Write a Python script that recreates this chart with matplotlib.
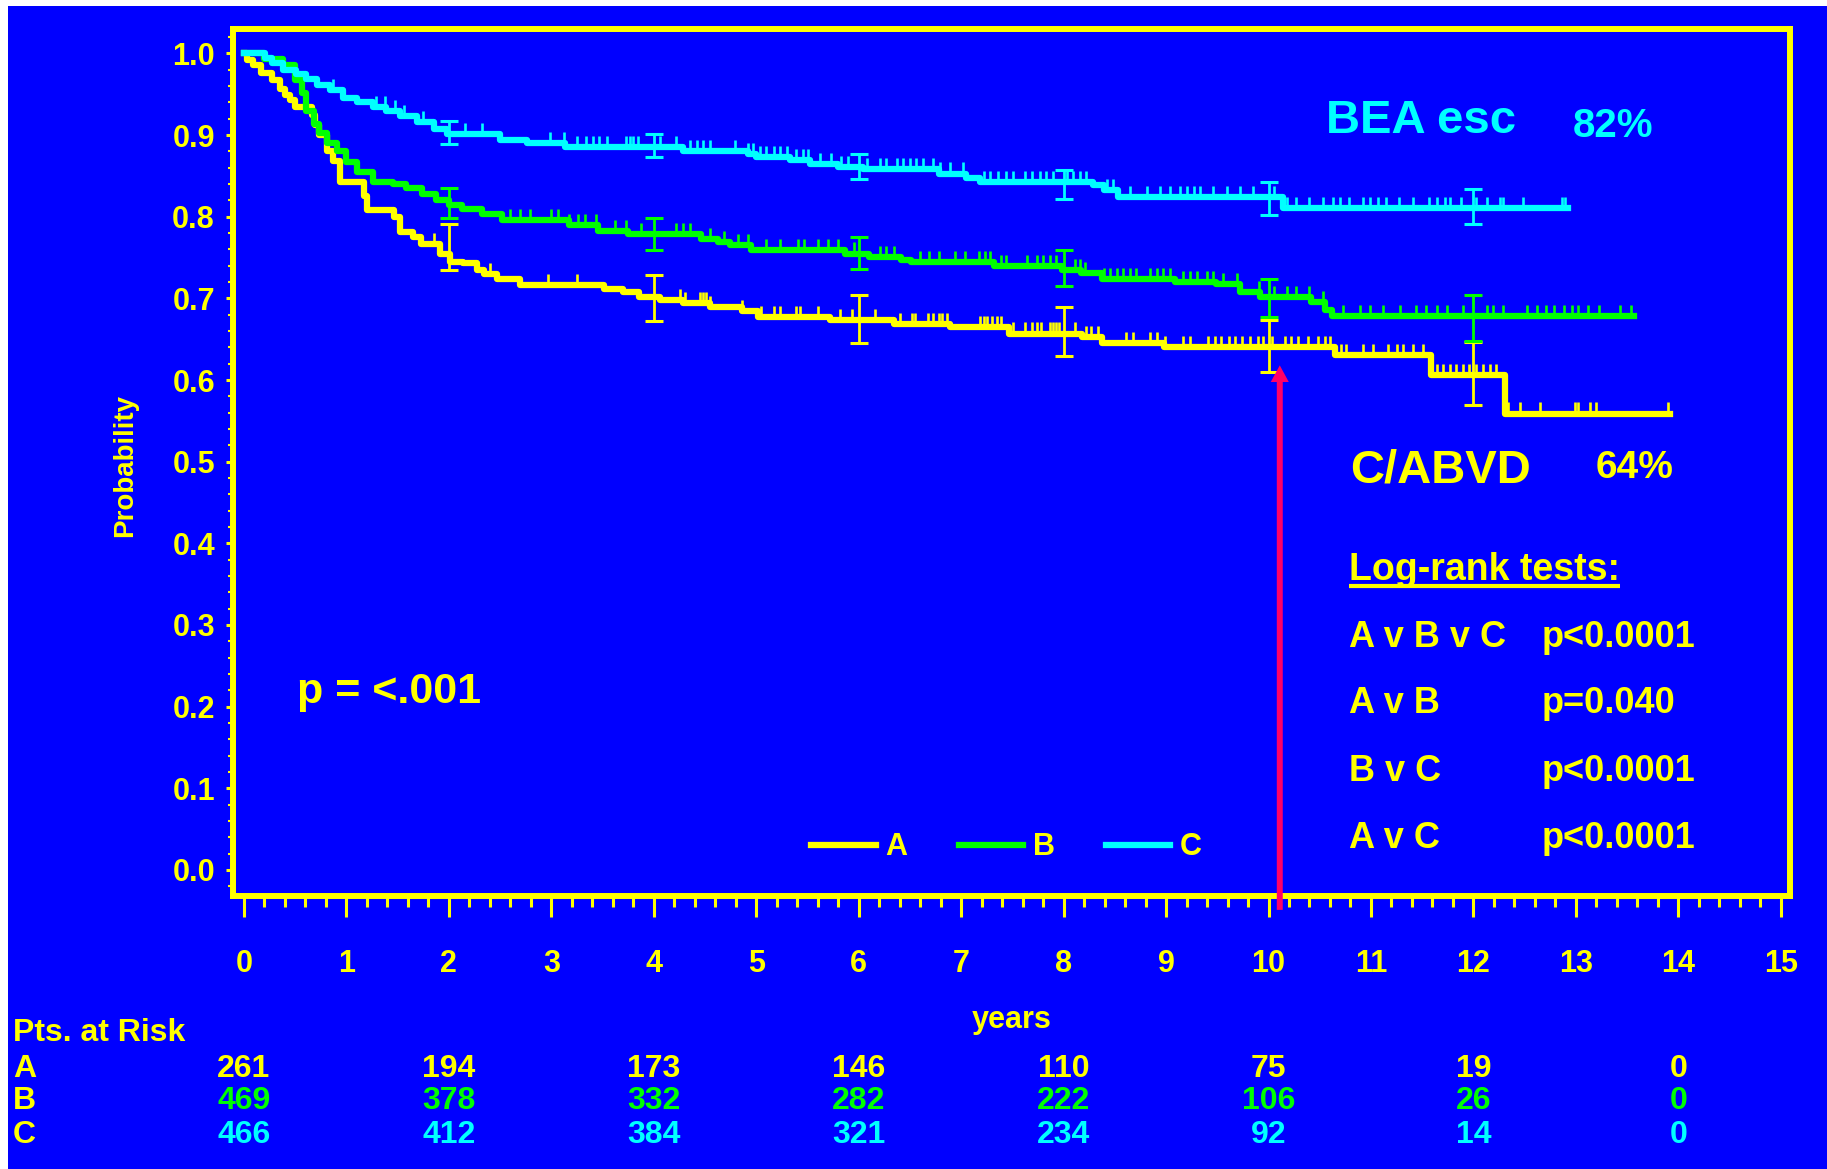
import numpy as np
import matplotlib
matplotlib.use("Agg")
import matplotlib.pyplot as plt
from matplotlib.patches import Rectangle, FancyArrowPatch
from matplotlib.ticker import MultipleLocator, FormatStrFormatter
from matplotlib import transforms

# ---------------- colours ----------------
BLUE = "#0000FF"
YEL = "#FFFF00"
GRN = "#00FF00"
CYN = "#00FFFF"
RED = "#FF0066"

# ---------------- Kaplan-Meier steps (years, probability) ----------------
a_time = [0, 0.03, 0.09, 0.17, 0.27, 0.35, 0.40, 0.45, 0.50, 0.66, 0.69, 0.73,
          0.81, 0.87, 0.94, 1.17, 1.20, 1.46, 1.52, 1.65, 1.73, 1.91, 2.01, 2.14,
          2.27, 2.34, 2.47, 2.69, 3.51, 3.70, 3.86, 4.06, 4.29, 4.55, 4.86, 5.02,
          5.72, 6.34, 6.89, 7.47, 8.18, 8.37, 8.98, 10.65, 11.59, 12.31]
a_surv = [1.0, 0.992, 0.986, 0.976, 0.967, 0.957, 0.949, 0.943, 0.935, 0.925, 0.912, 0.900,
          0.880, 0.868, 0.843, 0.826, 0.808, 0.800, 0.781, 0.775, 0.767, 0.755, 0.745, 0.743,
          0.735, 0.730, 0.724, 0.716, 0.712, 0.708, 0.702, 0.698, 0.694, 0.690, 0.684, 0.677,
          0.673, 0.669, 0.665, 0.657, 0.653, 0.645, 0.641, 0.631, 0.606, 0.559]
a_last = 13.92

b_time = [0, 0.20, 0.38, 0.50, 0.57, 0.61, 0.68, 0.73, 0.81, 0.91, 1.00, 1.10,
          1.26, 1.45, 1.58, 1.74, 1.87, 2.00, 2.13, 2.32, 2.52, 3.17, 3.46, 3.75,
          4.46, 4.63, 4.74, 4.95, 5.87, 6.10, 6.41, 6.51, 7.32, 7.98, 8.17, 8.37,
          9.09, 9.49, 9.72, 9.92, 10.41, 10.55, 10.62]
b_surv = [1.0, 0.993, 0.986, 0.967, 0.951, 0.930, 0.914, 0.902, 0.890, 0.880, 0.867, 0.855,
          0.843, 0.840, 0.835, 0.828, 0.821, 0.815, 0.810, 0.804, 0.796, 0.790, 0.783, 0.779,
          0.773, 0.769, 0.766, 0.759, 0.755, 0.751, 0.747, 0.744, 0.740, 0.735, 0.731, 0.724,
          0.720, 0.718, 0.708, 0.702, 0.696, 0.686, 0.678]
b_last = 13.57

c_time = [0, 0.205, 0.27, 0.38, 0.51, 0.61, 0.71, 0.84, 0.97, 1.10, 1.26, 1.39,
          1.52, 1.69, 1.85, 1.98, 2.50, 2.76, 3.13, 4.29, 4.92, 5.00, 5.33, 5.52,
          5.80, 6.04, 6.78, 7.05, 7.18, 8.29, 8.39, 8.53, 10.14]
c_surv = [1.0, 0.995, 0.988, 0.980, 0.975, 0.969, 0.961, 0.955, 0.945, 0.941, 0.935, 0.930,
          0.924, 0.916, 0.907, 0.901, 0.894, 0.890, 0.886, 0.881, 0.877, 0.873, 0.869, 0.865,
          0.861, 0.858, 0.853, 0.847, 0.843, 0.839, 0.833, 0.824, 0.811]
c_last = 12.92

# censored observations (years)
a_cens = [1.85, 2.40, 2.97, 3.25, 4.26, 4.30, 4.45, 4.48, 4.51, 4.55, 4.86, 5.05,
          5.17, 5.23, 5.39, 5.43, 5.60, 5.82, 5.93, 6.16, 6.40, 6.52, 6.55, 6.68,
          6.73, 6.78, 6.81, 6.86, 7.18, 7.22, 7.25, 7.30, 7.35, 7.39, 7.51, 7.62,
          7.69, 7.74, 7.78, 7.87, 7.90, 7.93, 7.96, 8.11, 8.22, 8.27, 8.34, 8.61,
          8.68, 8.84, 8.91, 8.99, 9.17, 9.23, 9.41, 9.48, 9.54, 9.61, 9.67, 9.74,
          9.82, 9.90, 9.95, 10.03, 10.16, 10.22, 10.29, 10.39, 10.48, 10.55, 10.60,
          10.71, 10.76, 10.92, 11.02, 11.17, 11.25, 11.31, 11.41, 11.51, 11.64,
          11.70, 11.77, 11.83, 11.90, 11.96, 12.03, 12.09, 12.16, 12.22, 12.34,
          12.45, 12.65, 12.99, 13.02, 13.14, 13.20, 13.90]
b_cens = [2.60, 2.69, 2.79, 3.00, 3.07, 3.17, 3.26, 3.33, 3.44, 3.62, 3.73, 3.88,
          4.22, 4.29, 4.35, 4.55, 4.69, 4.82, 4.92, 5.10, 5.23, 5.41, 5.47, 5.60,
          5.70, 5.80, 5.95, 6.21, 6.27, 6.34, 6.60, 6.69, 6.78, 6.94, 7.04, 7.17,
          7.23, 7.28, 7.39, 7.44, 7.64, 7.74, 7.80, 7.87, 7.93, 8.11, 8.16, 8.21,
          8.39, 8.45, 8.52, 8.58, 8.65, 8.71, 8.84, 8.91, 8.97, 9.04, 9.17, 9.23,
          9.30, 9.40, 9.46, 9.56, 9.69, 9.91, 10.05, 10.18, 10.27, 10.40, 10.53,
          10.73, 10.89, 10.99, 11.12, 11.28, 11.44, 11.54, 11.64, 11.74, 11.90,
          12.13, 12.19, 12.29, 12.52, 12.62, 12.71, 12.79, 12.88, 12.96, 13.02,
          13.12, 13.23, 13.43, 13.54]
c_cens = [0.87, 1.29, 1.38, 1.47, 1.56, 1.75, 2.16, 2.32, 2.99, 3.12, 3.25, 3.34,
          3.41, 3.47, 3.54, 3.73, 3.77, 3.80, 3.85, 4.06, 4.22, 4.35, 4.42, 4.48,
          4.55, 4.79, 4.92, 4.97, 5.04, 5.10, 5.17, 5.23, 5.30, 5.39, 5.46, 5.51,
          5.62, 5.73, 5.83, 5.90, 6.08, 6.21, 6.27, 6.37, 6.43, 6.50, 6.56, 6.63,
          6.73, 6.79, 6.89, 7.02, 7.22, 7.28, 7.36, 7.44, 7.51, 7.62, 7.69, 7.77,
          7.83, 7.90, 8.03, 8.09, 8.16, 8.22, 8.42, 8.48, 8.65, 8.81, 8.94, 9.04,
          9.14, 9.20, 9.27, 9.33, 9.46, 9.59, 9.72, 9.85, 10.05, 10.18, 10.27,
          10.40, 10.53, 10.63, 10.70, 10.79, 10.92, 10.99, 11.07, 11.15, 11.27,
          11.41, 11.57, 11.64, 11.72, 11.77, 11.88, 12.03, 12.13, 12.26, 12.29,
          12.48, 12.86, 12.89]

# confidence limits at 2-yearly points
err_years = [2, 4, 6, 8, 10, 12]
a_err_lo = [0.735, 0.672, 0.645, 0.629, 0.610, 0.570]
a_err_hi = [0.791, 0.729, 0.704, 0.689, 0.673, 0.646]
b_err_lo = [0.798, 0.759, 0.736, 0.715, 0.677, 0.648]
b_err_hi = [0.835, 0.799, 0.775, 0.759, 0.724, 0.704]
c_err_lo = [0.889, 0.873, 0.846, 0.822, 0.802, 0.791]
c_err_hi = [0.917, 0.901, 0.877, 0.857, 0.842, 0.834]

# numbers at risk
risk_years = [0, 2, 4, 6, 8, 10, 12, 14]
risk_a = [261, 194, 173, 146, 110, 75, 19, 0]
risk_b = [469, 378, 332, 282, 222, 106, 26, 0]
risk_c = [466, 412, 384, 321, 234, 92, 14, 0]

tests = ["A v B v C", "A v B", "B v C", "A v C"]
test_p = ["p<0.0001", "p=0.040", "p<0.0001", "p<0.0001"]

arrow_year = 10.11
arrow_tip = 0.618


def surv_at(times, surv, t):
    idx = np.searchsorted(times, t, side="right") - 1
    return np.asarray(surv)[idx]


def main():
    plt.rcParams["font.family"] = ["Liberation Sans", "DejaVu Sans"]
    plt.rcParams["font.weight"] = "bold"
    plt.rcParams["axes.labelweight"] = "bold"

    W, H = 1827, 1169
    fig = plt.figure(figsize=(W / 100, H / 100), dpi=100, facecolor="white")
    fig.add_artist(Rectangle((8 / W, 0), 1, 1 - 6 / H, transform=fig.transFigure,
                             facecolor=BLUE, edgecolor="none", zorder=-10))

    ax = fig.add_axes([233 / W, 1 - 896 / H, (1790 - 233) / W, (896 - 29) / H])
    ax.set_facecolor(BLUE)
    for sp in ax.spines.values():
        sp.set_color(YEL)
        sp.set_linewidth(4.3)

    groups = [
        (a_time, a_surv, a_last, a_cens, a_err_lo, a_err_hi, YEL, "A"),
        (b_time, b_surv, b_last, b_cens, b_err_lo, b_err_hi, GRN, "B"),
        (c_time, c_surv, c_last, c_cens, c_err_lo, c_err_hi, CYN, "C"),
    ]
    for times, surv, last, cens, lo, hi, col, lab in groups:
        xs = list(times) + [last]
        ys = list(surv) + [surv[-1]]
        ax.step(xs, ys, where="post", color=col, lw=4.5, label=lab)
        cy = surv_at(times, surv, cens)
        ax.vlines(cens, cy, cy + 0.0135, color=col, lw=1.9)
        lo = np.array(lo)
        hi = np.array(hi)
        mid = (lo + hi) / 2
        ax.errorbar(err_years, mid, yerr=[mid - lo, hi - mid], fmt="none",
                    ecolor=col, elinewidth=2, capsize=6.5, capthick=2.2)

    ax.set_xlim(-0.107, 15.09)
    ax.set_ylim(-0.032, 1.030)
    ax.xaxis.set_major_locator(MultipleLocator(1))
    ax.xaxis.set_minor_locator(MultipleLocator(0.2))
    ax.yaxis.set_major_locator(MultipleLocator(0.1))
    ax.yaxis.set_minor_locator(MultipleLocator(0.02))
    ax.yaxis.set_major_formatter(FormatStrFormatter("%.1f"))
    ax.tick_params(axis="x", which="major", direction="out", length=15, width=2.2,
                   color=YEL, pad=23, labelsize=22, labelcolor=YEL)
    ax.tick_params(axis="x", which="minor", direction="out", length=8, width=2.2, color=YEL)
    ax.tick_params(axis="y", which="major", direction="out", length=5, width=2.2,
                   color=YEL, pad=8, labelsize=22, labelcolor=YEL)
    ax.tick_params(axis="y", which="minor", direction="out", length=3.5, width=1.5, color=YEL)

    ax.set_ylabel("Probability", color=YEL, fontsize=20, fontweight="bold")
    ax.yaxis.set_label_coords(-0.061, 0.497)
    ax.set_xlabel("years", color=YEL, fontsize=22, fontweight="bold")
    ax.xaxis.set_label_coords(0.5, -0.126)

    ax.legend(ncol=3, loc="center", bbox_to_anchor=(0.497, 0.056), frameon=False,
              handlelength=2.1, handletextpad=0.33, columnspacing=1.67,
              fontsize=22, labelcolor=YEL)

    # annotations inside the plot
    ax.text(0.52, 0.204, "p = <.001", color=YEL, fontsize=31)
    ax.text(10.56, 0.902, "BEA esc", color=CYN, fontsize=34)
    ax.text(12.97, 0.898, "82%", color=CYN, fontsize=29)
    ax.text(10.80, 0.475, "C/ABVD", color=YEL, fontsize=34)
    ax.text(13.19, 0.480, "64%", color=YEL, fontsize=28)
    head = ax.text(10.79, 0.355, "Log-rank tests:", color=YEL, fontsize=27)
    row_base = [0.273, 0.192, 0.109, 0.027]
    for name, p, yb in zip(tests, test_p, row_base):
        ax.text(10.79, yb, name, color=YEL, fontsize=26)
        ax.text(12.67, yb, p, color=YEL, fontsize=26)

    arrow = FancyArrowPatch((arrow_year, -0.049), (arrow_year, arrow_tip),
                            arrowstyle="simple,head_length=12,head_width=13,tail_width=4.3",
                            mutation_scale=1, color=RED, lw=0, shrinkA=0, shrinkB=0,
                            clip_on=False, zorder=5)
    ax.add_patch(arrow)

    # numbers at risk under the axis
    trans = transforms.blended_transform_factory(ax.transData, fig.transFigure)
    fig.text(13 / W, 1 - 1041 / H, "Pts. at Risk", color=YEL, fontsize=23)
    rows = [("A", risk_a, YEL, 1077), ("B", risk_b, GRN, 1109), ("C", risk_c, CYN, 1143)]
    for lab, counts, col, ypx in rows:
        fig.text(13 / W, 1 - ypx / H, lab, color=YEL, fontsize=23)
        for yr, n in zip(risk_years, counts):
            ax.text(yr, 1 - ypx / H, str(n), color=col, fontsize=23, ha="center",
                    transform=trans, clip_on=False)

    # underline the log-rank heading
    fig.canvas.draw()
    bb = head.get_window_extent()
    ybase = ax.transData.transform((10.79, 0.355))[1] - 6
    inv = ax.transData.inverted()
    u0, v = inv.transform((bb.x0, ybase))
    u1, _ = inv.transform((bb.x1, ybase))
    ax.plot([u0, u1], [v, v], color=YEL, lw=3, solid_capstyle="butt")

    fig.savefig("out.png", dpi=100, facecolor="white")


if __name__ == "__main__":
    main()
